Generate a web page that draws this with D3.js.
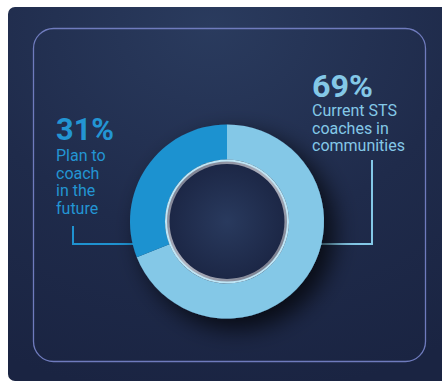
<!DOCTYPE html>
<html>
<head>
<meta charset="utf-8">
<script src="https://cdn.jsdelivr.net/npm/d3@7"></script>
<style>
  html, body { margin: 0; padding: 0; background: #ffffff; }
  svg { display: block; }
</style>
</head>
<body>
<svg id="chart" width="442" height="381"></svg>
<script>
// Share of coaches by status
const categories = ["Current STS coaches in communities", "Plan to coach in the future"];
const values = [69, 31];
const percentLabels = ["69%", "31%"];
const descLines = [
  ["Current STS", "coaches in", "communities"],
  ["Plan to", "coach", "in the", "future"]
];
const colors = ["#84c8e7", "#1f92d0"];

const W = 442, H = 381;
const svg = d3.select("#chart");
const defs = svg.append("defs");

// card background
const bg = defs.append("radialGradient").attr("id", "bgGrad")
  .attr("cx", "0.45").attr("cy", "0.05").attr("r", "1.0");
bg.append("stop").attr("offset", "0").attr("stop-color", "#2a3b5e");
bg.append("stop").attr("offset", "0.55").attr("stop-color", "#1f2b4b");
bg.append("stop").attr("offset", "1").attr("stop-color", "#1a2442");

const hole = defs.append("radialGradient").attr("id", "holeGrad");
hole.append("stop").attr("offset", "0").attr("stop-color", "#293a5e");
hole.append("stop").attr("offset", "1").attr("stop-color", "#1c2746");

const rim = defs.append("linearGradient").attr("id", "rimGrad")
  .attr("x1", "0").attr("y1", "0").attr("x2", "1").attr("y2", "1");
rim.append("stop").attr("offset", "0").attr("stop-color", "#6d7284");
rim.append("stop").attr("offset", "0.5").attr("stop-color", "#b3b6c2");
rim.append("stop").attr("offset", "1").attr("stop-color", "#6a6f80");

const shadow = defs.append("filter").attr("id", "ringShadow")
  .attr("x", "-40%").attr("y", "-40%").attr("width", "190%").attr("height", "190%");
shadow.append("feGaussianBlur").attr("in", "SourceAlpha").attr("stdDeviation", 12).attr("result", "b");
shadow.append("feOffset").attr("in", "b").attr("dx", 10).attr("dy", 10).attr("result", "o");
shadow.append("feComponentTransfer").attr("in", "o").attr("result", "s")
  .append("feFuncA").attr("type", "linear").attr("slope", 0.75);
const merge = shadow.append("feMerge");
merge.append("feMergeNode").attr("in", "s");
merge.append("feMergeNode").attr("in", "SourceGraphic");

svg.append("rect")
  .attr("x", 8).attr("y", 7).attr("width", W + 10).attr("height", H - 7 + 0)
  .attr("rx", 7).attr("fill", "url(#bgGrad)");

svg.append("rect")
  .attr("x", 33.5).attr("y", 28.5).attr("width", 392).attr("height", 333)
  .attr("rx", 20).attr("fill", "none")
  .attr("stroke", "#6f7bbd").attr("stroke-width", 1.3);

// donut
const cx = 227, cy = 221.5;
const rOuter = 97, rInner = 62;

const pie = d3.pie().sort(null).value(d => d);
const arcs = pie(values);
const arc = d3.arc().innerRadius(rInner).outerRadius(rOuter);

// leader lines
const lineG = svg.append("g").attr("fill", "none").attr("stroke-width", 2);
lineG.append("path")
  .attr("d", d3.line()([[cx + rOuter - 4, 244], [372, 244], [372, 160]]))
  .attr("stroke", colors[0]);
lineG.append("path")
  .attr("d", d3.line()([[cx - rOuter + 4, 244], [73, 244], [73, 226]]))
  .attr("stroke", colors[1]);

const g = svg.append("g").attr("transform", `translate(${cx},${cy})`);
const ring = g.append("g").attr("filter", "url(#ringShadow)");
ring.selectAll("path.slice")
  .data(arcs)
  .join("path")
  .attr("class", "slice")
  .attr("d", arc)
  .attr("fill", (d, i) => colors[i]);

g.append("circle").attr("r", rInner).attr("fill", "#bfe6f6");
g.append("circle").attr("r", rInner - 2).attr("fill", "url(#rimGrad)");
g.append("circle").attr("r", rInner - 4.5).attr("fill", "url(#hole)").attr("fill", "url(#holeGrad)");

// labels
const labelPos = [
  { x: 312, y: 97, lineY: 116, w: 61 },
  { x: 56, y: 140, lineY: 161, w: 58 }
];
const labelColors = ["#84c8e7", "#2395d3"];

labelPos.forEach((p, i) => {
  const t = svg.append("g").attr("fill", labelColors[i]);
  t.append("text")
    .attr("x", p.x).attr("y", p.y)
    .attr("font-family", "Roboto, 'Liberation Sans', sans-serif")
    .attr("font-weight", 700)
    .attr("font-size", 32)
    .attr("textLength", p.w)
    .attr("lengthAdjust", "spacingAndGlyphs")
    .text(percentLabels[i]);
  descLines[i].forEach((line, j) => {
    t.append("text")
      .attr("x", p.x).attr("y", p.lineY + j * 17.7)
      .attr("font-family", "Roboto, 'Liberation Sans', sans-serif")
      .attr("font-size", 16)
      .text(line);
  });
});
</script>
</body>
</html>
